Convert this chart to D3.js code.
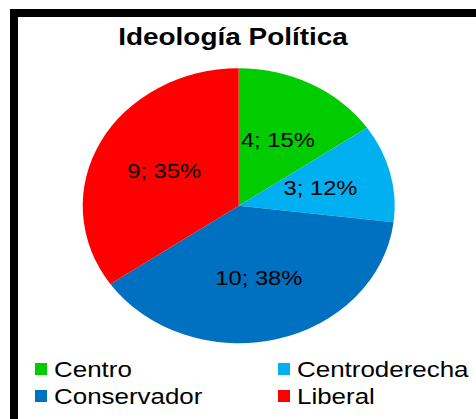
<!DOCTYPE html>
<html>
<head>
<meta charset="utf-8">
<script src="https://cdn.jsdelivr.net/npm/d3@7"></script>
<style>
  html, body { margin: 0; padding: 0; background: #fff; }
  svg { display: block; }
  text { font-family: "Liberation Sans", Arial, sans-serif; fill: #000; }
</style>
</head>
<body>
<svg id="chart" width="476" height="419"></svg>
<script>
const title = "Ideología Política";
const categories = ["Centro", "Centroderecha", "Conservador", "Liberal"];
const values = [4, 3, 10, 9];
const colors = ["#00CC00", "#00B0F0", "#0070C0", "#FF0000"];

const W = 476, H = 419;
const svg = d3.select("#chart");
const sx = 1.13; // horizontal stretch of the original picture

// frame
svg.append("rect")
  .attr("x", 14).attr("y", 13)
  .attr("width", 480).attr("height", 410)
  .attr("fill", "#fff").attr("stroke", "#000").attr("stroke-width", 8);

// title
svg.append("text")
  .attr("transform", `translate(233,45) scale(${sx * 1.03},1)`)
  .attr("text-anchor", "middle")
  .style("font-weight", "bold").style("font-size", "24px")
  .text(title);

// pie
const cx = 238.7, cy = 205.8, ry = 137.5, rx = 156;
const total = d3.sum(values);
const pie = d3.pie().sort(null).value(d => d.v);
const data = pie(categories.map((c, i) => ({ c, v: values[i], col: colors[i] })));
const arc = d3.arc().innerRadius(0).outerRadius(ry);
const labelArc = d3.arc().innerRadius(ry * 0.54).outerRadius(ry * 0.54);

const g = svg.append("g").attr("transform", `translate(${cx},${cy})`);
g.append("g").attr("transform", `scale(${rx / ry},1)`)
  .selectAll("path").data(data).join("path")
  .attr("d", arc)
  .attr("fill", d => d.data.col);

const fmt = v => Math.round(v / total * 100) + "%";
g.selectAll("text.lbl").data(data).join("text")
  .attr("class", "lbl")
  .attr("transform", d => {
    const [x, y] = labelArc.centroid(d);
    return `translate(${x * rx / ry},${y}) scale(${sx},1)`;
  })
  .attr("text-anchor", "middle")
  .attr("dy", "0.33em")
  .style("font-size", "21px")
  .text(d => d.data.v + "; " + fmt(d.data.v));

// legend
const colX = [35, 278];
const rowY = [377, 404];
const leg = svg.append("g");
categories.forEach((c, i) => {
  const x = colX[i % 2], y = rowY[Math.floor(i / 2)];
  leg.append("rect")
    .attr("x", x).attr("y", y - 14)
    .attr("width", 12).attr("height", 12)
    .attr("fill", colors[i]);
  leg.append("text")
    .attr("transform", `translate(${x + 19},${y}) scale(${sx * 1.02},1)`)
    .style("font-size", "22.5px")
    .text(c);
});
</script>
</body>
</html>
